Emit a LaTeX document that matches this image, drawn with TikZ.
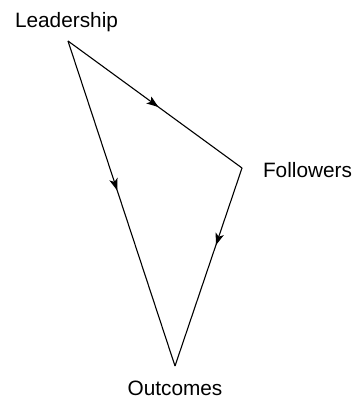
\documentclass[tikz,border=0pt]{standalone}
\usepackage{fontspec}
\setmainfont{Liberation Sans}
\usetikzlibrary{arrows.meta,decorations.markings}
\tikzset{
  lbl/.style={anchor=base,inner sep=0pt,font=\fontsize{20.8}{25}\selectfont},
  edge/.style={line width=1.1pt,black,postaction={decorate},
    decoration={markings,mark=at position #1 with {\arrow{Stealth[length=12pt,width=8.5pt,inset=3pt]}}}}
}
\begin{document}
\begin{tikzpicture}[x=1pt,y=-1pt]
\useasboundingbox (0,0) rectangle (355,398);
\coordinate (L) at (68,41);
\coordinate (F) at (242,168);
\coordinate (O) at (175,366);
\node[lbl] (tL) at (66.5,28) {Leadership};
\node[lbl] (tF) at (307.5,177) {Followers};
\node[lbl] (tO) at (175,395) {Outcomes};
\draw[edge=0.52] (L) -- (F);
\draw[edge=0.46] (L) -- (O);
\draw[edge=0.39] (F) -- (O);
\end{tikzpicture}
\end{document}
